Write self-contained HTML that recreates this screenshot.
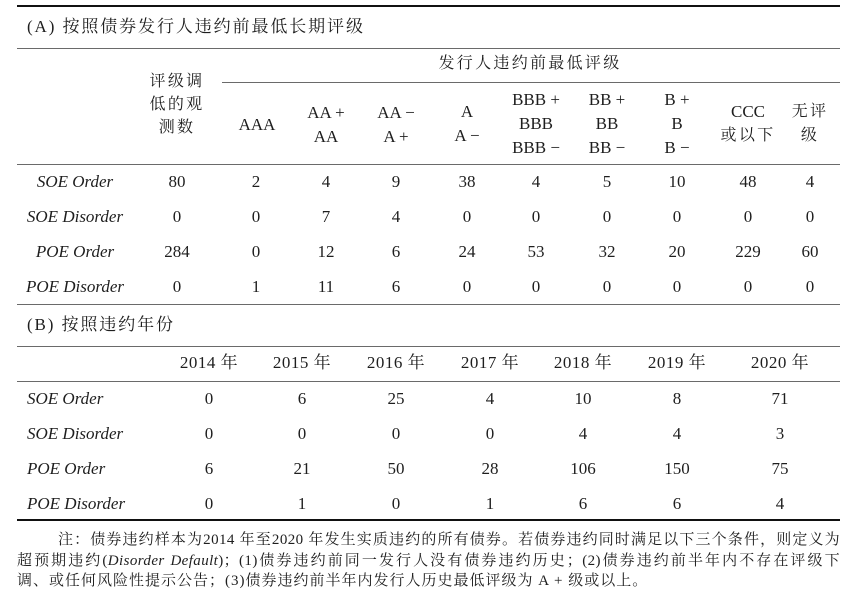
<!DOCTYPE html>
<html><head><meta charset="utf-8">
<style>
html,body{margin:0;padding:0;background:#fff;}
body{width:865px;height:602px;position:relative;overflow:hidden;font-family:"Liberation Serif","Noto Serif CJK SC",serif;color:#1e1e1e;}
.c{position:absolute;transform:translate(-50%,-50%);white-space:nowrap;font-size:17px;line-height:20px;}
.h{font-size:16px;letter-spacing:2.3px;}
.i{font-style:italic;}
.l{position:absolute;white-space:nowrap;font-size:17px;line-height:20px;transform:translateY(-50%);}
.ln{position:absolute;left:17px;width:823px;height:1px;background:#6a6a6a;}
.tk{position:absolute;left:17px;width:823px;height:2px;background:#111;}
.title{position:absolute;left:27px;font-size:17px;letter-spacing:1.9px;line-height:22px;white-space:nowrap;transform:translateY(-50%);}
.note{position:absolute;left:17px;width:823px;font-size:15px;letter-spacing:1px;line-height:20px;white-space:nowrap;}
.j{text-align:justify;text-align-last:justify;white-space:normal;letter-spacing:0.4px;}
</style></head><body>

<div class="tk" style="top:5px"></div>
<div class="title" style="top:27px">(A)&nbsp;按照债券发行人违约前最低长期评级</div>
<div class="ln" style="top:48px"></div>

<div class="c h" style="left:530px;top:64px">发行人违约前最低评级</div>
<div class="ln" style="top:82px;left:222px;width:618px"></div>

<div class="c h" style="left:177px;top:82px">评级调</div>
<div class="c h" style="left:177px;top:105px">低的观</div>
<div class="c h" style="left:177px;top:128px">测数</div>

<div class="c" style="left:257px;top:125px">AAA</div>
<div class="c" style="left:326px;top:113px">AA +</div>
<div class="c" style="left:326px;top:137px">AA</div>
<div class="c" style="left:396px;top:113px">AA −</div>
<div class="c" style="left:396px;top:137px">A +</div>
<div class="c" style="left:467px;top:112px">A</div>
<div class="c" style="left:467px;top:136px">A −</div>
<div class="c" style="left:536px;top:100px">BBB +</div>
<div class="c" style="left:536px;top:124px">BBB</div>
<div class="c" style="left:536px;top:148px">BBB −</div>
<div class="c" style="left:607px;top:100px">BB +</div>
<div class="c" style="left:607px;top:124px">BB</div>
<div class="c" style="left:607px;top:148px">BB −</div>
<div class="c" style="left:677px;top:100px">B +</div>
<div class="c" style="left:677px;top:124px">B</div>
<div class="c" style="left:677px;top:148px">B −</div>
<div class="c" style="left:748px;top:112px">CCC</div>
<div class="c h" style="left:748px;top:136px">或以下</div>
<div class="c h" style="left:810px;top:112px">无评</div>
<div class="c h" style="left:810px;top:136px">级</div>

<div class="ln" style="top:164px"></div>

<!-- Table A rows -->
<div class="c i" style="left:75px;top:182px">SOE Order</div>
<div class="c" style="left:177px;top:182px">80</div>
<div class="c" style="left:256px;top:182px">2</div>
<div class="c" style="left:326px;top:182px">4</div>
<div class="c" style="left:396px;top:182px">9</div>
<div class="c" style="left:467px;top:182px">38</div>
<div class="c" style="left:536px;top:182px">4</div>
<div class="c" style="left:607px;top:182px">5</div>
<div class="c" style="left:677px;top:182px">10</div>
<div class="c" style="left:748px;top:182px">48</div>
<div class="c" style="left:810px;top:182px">4</div>

<div class="c i" style="left:75px;top:217px">SOE Disorder</div>
<div class="c" style="left:177px;top:217px">0</div>
<div class="c" style="left:256px;top:217px">0</div>
<div class="c" style="left:326px;top:217px">7</div>
<div class="c" style="left:396px;top:217px">4</div>
<div class="c" style="left:467px;top:217px">0</div>
<div class="c" style="left:536px;top:217px">0</div>
<div class="c" style="left:607px;top:217px">0</div>
<div class="c" style="left:677px;top:217px">0</div>
<div class="c" style="left:748px;top:217px">0</div>
<div class="c" style="left:810px;top:217px">0</div>

<div class="c i" style="left:75px;top:252px">POE Order</div>
<div class="c" style="left:177px;top:252px">284</div>
<div class="c" style="left:256px;top:252px">0</div>
<div class="c" style="left:326px;top:252px">12</div>
<div class="c" style="left:396px;top:252px">6</div>
<div class="c" style="left:467px;top:252px">24</div>
<div class="c" style="left:536px;top:252px">53</div>
<div class="c" style="left:607px;top:252px">32</div>
<div class="c" style="left:677px;top:252px">20</div>
<div class="c" style="left:748px;top:252px">229</div>
<div class="c" style="left:810px;top:252px">60</div>

<div class="c i" style="left:75px;top:287px">POE Disorder</div>
<div class="c" style="left:177px;top:287px">0</div>
<div class="c" style="left:256px;top:287px">1</div>
<div class="c" style="left:326px;top:287px">11</div>
<div class="c" style="left:396px;top:287px">6</div>
<div class="c" style="left:467px;top:287px">0</div>
<div class="c" style="left:536px;top:287px">0</div>
<div class="c" style="left:607px;top:287px">0</div>
<div class="c" style="left:677px;top:287px">0</div>
<div class="c" style="left:748px;top:287px">0</div>
<div class="c" style="left:810px;top:287px">0</div>

<div class="ln" style="top:304px"></div>

<div class="title" style="top:325px">(B)&nbsp;按照违约年份</div>
<div class="ln" style="top:346px"></div>

<div class="c" style="left:209px;top:363px;letter-spacing:0.5px">2014 年</div>
<div class="c" style="left:302px;top:363px;letter-spacing:0.5px">2015 年</div>
<div class="c" style="left:396px;top:363px;letter-spacing:0.5px">2016 年</div>
<div class="c" style="left:490px;top:363px;letter-spacing:0.5px">2017 年</div>
<div class="c" style="left:583px;top:363px;letter-spacing:0.5px">2018 年</div>
<div class="c" style="left:677px;top:363px;letter-spacing:0.5px">2019 年</div>
<div class="c" style="left:780px;top:363px;letter-spacing:0.5px">2020 年</div>

<div class="ln" style="top:381px"></div>

<!-- Table B rows -->
<div class="l i" style="left:27px;top:399px">SOE Order</div>
<div class="c" style="left:209px;top:399px">0</div>
<div class="c" style="left:302px;top:399px">6</div>
<div class="c" style="left:396px;top:399px">25</div>
<div class="c" style="left:490px;top:399px">4</div>
<div class="c" style="left:583px;top:399px">10</div>
<div class="c" style="left:677px;top:399px">8</div>
<div class="c" style="left:780px;top:399px">71</div>

<div class="l i" style="left:27px;top:434px">SOE Disorder</div>
<div class="c" style="left:209px;top:434px">0</div>
<div class="c" style="left:302px;top:434px">0</div>
<div class="c" style="left:396px;top:434px">0</div>
<div class="c" style="left:490px;top:434px">0</div>
<div class="c" style="left:583px;top:434px">4</div>
<div class="c" style="left:677px;top:434px">4</div>
<div class="c" style="left:780px;top:434px">3</div>

<div class="l i" style="left:27px;top:469px">POE Order</div>
<div class="c" style="left:209px;top:469px">6</div>
<div class="c" style="left:302px;top:469px">21</div>
<div class="c" style="left:396px;top:469px">50</div>
<div class="c" style="left:490px;top:469px">28</div>
<div class="c" style="left:583px;top:469px">106</div>
<div class="c" style="left:677px;top:469px">150</div>
<div class="c" style="left:780px;top:469px">75</div>

<div class="l i" style="left:27px;top:504px">POE Disorder</div>
<div class="c" style="left:209px;top:504px">0</div>
<div class="c" style="left:302px;top:504px">1</div>
<div class="c" style="left:396px;top:504px">0</div>
<div class="c" style="left:490px;top:504px">1</div>
<div class="c" style="left:583px;top:504px">6</div>
<div class="c" style="left:677px;top:504px">6</div>
<div class="c" style="left:780px;top:504px">4</div>

<div class="tk" style="top:519px"></div>

<div class="note j" style="top:530px;left:58px;width:782px">注：债券违约样本为2014 年至2020 年发生实质违约的所有债券。若债券违约同时满足以下三个条件，则定义为</div>
<div class="note j" style="top:551px">超预期违约(<i>Disorder Default</i>)；(1)债券违约前同一发行人没有债券违约历史；(2)债券违约前半年内不存在评级下</div>
<div class="note" style="top:571px">调、或任何风险性提示公告；(3)债券违约前半年内发行人历史最低评级为 A + 级或以上。</div>

</body></html>
